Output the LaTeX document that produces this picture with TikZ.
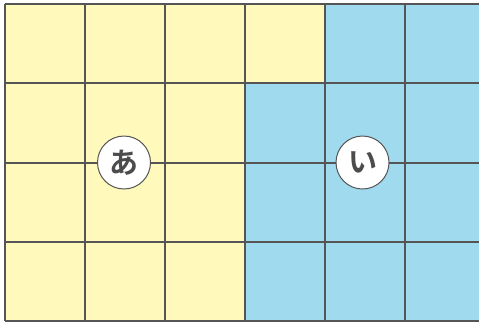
\documentclass[tikz,border=0pt]{standalone}
\usepackage{fontspec}
\newfontfamily\jpfont{Noto Sans CJK JP}[BoldFont={* Bold}]
\definecolor{areaA}{HTML}{FFF9BB}
\definecolor{areaB}{HTML}{A0DAEE}
\definecolor{gridline}{HTML}{555555}
\tikzset{
  label circle/.style={circle, draw=gridline, line width=1pt, fill=white, minimum size=53pt, inner sep=0pt, text=gridline!90!black, font=\jpfont\bfseries\fontsize{29}{29}\selectfont}
}
\begin{document}
\begin{tikzpicture}[x=1pt, y=-1pt]
  \useasboundingbox (0,0) rectangle (479,322);
  % coloured areas
  \fill[areaB] (5,4) rectangle (479,321);
  \fill[areaA] (5,4) -- (325,4) -- (325,83.25) -- (245,83.25) -- (245,321) -- (5,321) -- cycle;
  % grid
  \foreach \i in {0,...,5} {
    \draw[gridline, line width=2pt] (5+80*\i,4) -- (5+80*\i,321);
  }
  \foreach \j in {0,...,4} {
    \draw[gridline, line width=2pt] (5,4+79.25*\j) -- (479,4+79.25*\j);
  }
  \node[label circle] (a) at (124,162.5) {あ};
  \node[label circle] (i) at (362.5,162.5) {い};
\end{tikzpicture}
\end{document}
